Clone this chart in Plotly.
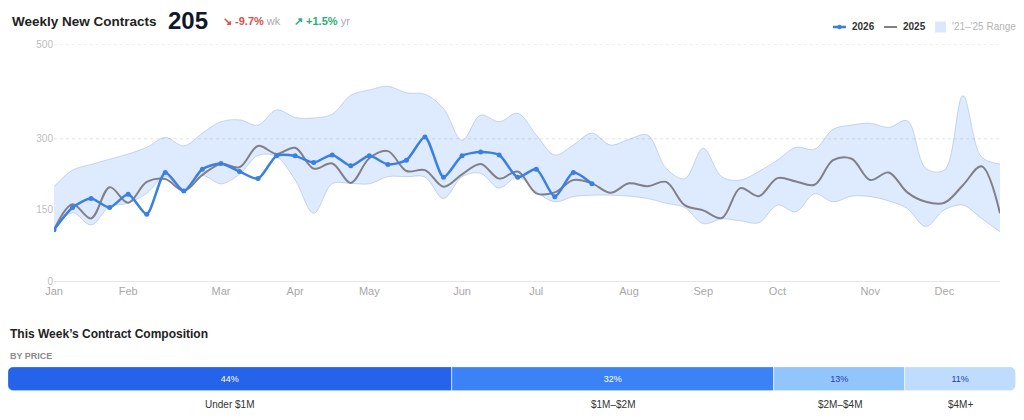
import plotly.graph_objects as go

# ---------------- data ----------------
weeks = list(range(52))
month_labels = ["Jan", "Feb", "Mar", "Apr", "May", "Jun", "Jul", "Aug", "Sep", "Oct", "Nov", "Dec"]
month_weeks = [0, 4, 9, 13, 17, 22, 26, 31, 35, 39, 44, 48]
y_ticks = [0, 150, 300, 500]

y2026 = [108, 155, 174, 155, 183, 141, 229, 190, 236, 248, 231, 216, 264, 264, 250,
         266, 243, 264, 246, 255, 304, 219, 264, 272, 266, 219, 236, 178, 229, 205]

y2025 = [108, 162, 132, 198, 165, 209, 215, 190, 224, 247, 240, 285, 268, 281, 237,
         248, 207, 259, 274, 232, 234, 199, 225, 247, 216, 231, 185, 187, 213, 206,
         186, 206, 200, 209, 160, 149, 133, 196, 179, 217, 210, 203, 255, 258, 213,
         229, 187, 167, 165, 202, 242, 143]

range_upper = [199, 234, 246, 257, 268, 282, 303, 285, 312, 336, 340, 329, 361, 345, 344,
               352, 392, 403, 411, 397, 394, 364, 297, 350, 336, 354, 308, 266, 287, 312,
               287, 299, 308, 238, 216, 280, 220, 213, 231, 255, 282, 278, 320, 329, 333,
               324, 338, 238, 234, 391, 262, 247]

range_lower = [110, 144, 118, 157, 164, 185, 220, 190, 222, 205, 225, 265, 262, 213, 143,
               205, 206, 205, 220, 220, 219, 174, 220, 227, 196, 220, 188, 167, 178, 181,
               181, 179, 174, 164, 155, 121, 131, 127, 123, 160, 146, 184, 167, 179, 178,
               169, 153, 115, 150, 160, 132, 104]

comp_categories = ["Under $1M", "$1M–$2M", "$2M–$4M", "$4M+"]
comp_shares = [44, 32, 13, 11]

headline_value = 205
wk_change = "-9.7%"
yr_change = "+1.5%"

# ---------------- geometry (page body has an 8px margin) ----------------
OFF = 8
W, H = 1024 - OFF, 420 - OFF
def px(x):
    return min(1.0, max(0.0, (x - OFF) / W))
def py(y):
    return min(1.0, max(0.0, 1 - (y - OFF) / H))

FONT = "Liberation Sans, Arial, sans-serif"
BLUE = "#3a7fe4"
GRAY = "#808086"
BAND_FILL = "rgba(59,130,246,0.17)"
BAND_EDGE = "rgba(120,155,210,0.45)"
comp_colors = ["#2563eb", "#3b82f6", "#93c5fd", "#bfdbfe"]
comp_text_colors = ["#ffffff", "#ffffff", "#1e40af", "#1e40af"]

fig = go.Figure()

# band
fig.add_trace(go.Scatter(
    x=weeks, y=range_lower, mode="lines",
    line=dict(color=BAND_EDGE, width=0.8, shape="spline", smoothing=1),
    showlegend=False, hoverinfo="skip"))
fig.add_trace(go.Scatter(
    x=weeks, y=range_upper, mode="lines", fill="tonexty", fillcolor=BAND_FILL,
    line=dict(color=BAND_EDGE, width=0.8, shape="spline", smoothing=1),
    name="'21–'25 Range", showlegend=False))

# 2025
fig.add_trace(go.Scatter(
    x=weeks, y=y2025, mode="lines",
    line=dict(color=GRAY, width=2, shape="spline", smoothing=1),
    name="2025", showlegend=False))

# 2026
fig.add_trace(go.Scatter(
    x=weeks[:len(y2026)], y=y2026, mode="lines+markers",
    line=dict(color=BLUE, width=2.5, shape="spline", smoothing=0.7),
    marker=dict(size=5, color=BLUE),
    name="2026", showlegend=False))

# composition bar: first segment extends left of the axis origin (so both outer ends get rounded)
first = comp_shares[0]
seg_start = -first
for i, (cat, share, col, tcol) in enumerate(zip(comp_categories, comp_shares, comp_colors, comp_text_colors)):
    val = -share if i == 0 else share
    fig.add_trace(go.Bar(
        x=[val], y=["price"], orientation="h", xaxis="x2", yaxis="y2",
        marker=dict(color=col, line=dict(color="#ffffff", width=0.6)),
        text=[f"{share}%"], textposition="inside", insidetextanchor="middle",
        textfont=dict(color=tcol, size=9, family=FONT),
        showlegend=False, hoverinfo="skip", name=cat))

annotations = [
    dict(text="<b>Weekly New Contracts</b>", x=px(10), y=py(22), xanchor="left", yanchor="middle",
         font=dict(size=13.5, color="#222222", family=FONT)),
    dict(text=f"<b>{headline_value}</b>", x=px(166), y=py(21), xanchor="left", yanchor="middle",
         font=dict(size=24, color="#111827", family=FONT)),
    dict(text=f"<span style='color:#e04a4a'><b>↘ {wk_change}</b></span> <span style='color:#aaaaaa'>wk</span>",
         x=px(221), y=py(21), xanchor="left", yanchor="middle", font=dict(size=11, family=FONT)),
    dict(text=f"<span style='color:#1fb07a'><b>↗ {yr_change}</b></span> <span style='color:#aaaaaa'>yr</span>",
         x=px(292), y=py(21), xanchor="left", yanchor="middle", font=dict(size=11, family=FONT)),
    dict(text="<b>This Week’s Contract Composition</b>", x=px(8), y=py(334), xanchor="left", yanchor="middle",
         font=dict(size=12, color="#222222", family=FONT)),
    dict(text="<b>BY PRICE</b>", x=px(8), y=py(356), xanchor="left", yanchor="middle",
         font=dict(size=9, color="#8a8a8a", family=FONT)),
    # legend labels
    dict(text="<b>2026</b>", x=px(850), y=py(27), xanchor="left", yanchor="middle",
         font=dict(size=10, color="#333333", family=FONT)),
    dict(text="<b>2025</b>", x=px(901), y=py(27), xanchor="left", yanchor="middle",
         font=dict(size=10, color="#333333", family=FONT)),
    dict(text="'21–'25 Range", x=px(950), y=py(27), xanchor="left", yanchor="middle",
         font=dict(size=10, color="#b5b5b5", family=FONT)),
]
cum = seg_start
for cat, share in zip(comp_categories, comp_shares):
    annotations.append(dict(text=cat, x=cum + share / 2, xref="x2", y=py(404), yref="paper",
                            xanchor="center", yanchor="middle",
                            font=dict(size=10, color="#333333", family=FONT)))
    cum += share
for a in annotations:
    a.setdefault("xref", "paper")
    a.setdefault("yref", "paper")
    a["showarrow"] = False

shapes = [dict(type="line", xref="x", yref="y", x0=0, x1=51, y0=v, y1=v,
               line=dict(color="#e3e3e3", width=1, dash="dot"), layer="below")
          for v in (300, 500)]
# legend keys
shapes += [
    dict(type="line", xref="paper", yref="paper", x0=px(833), x1=px(846), y0=py(27), y1=py(27),
         line=dict(color=BLUE, width=2.5)),
    dict(type="circle", xref="paper", yref="paper", x0=px(837.3), x1=px(841.7), y0=py(29.2), y1=py(24.8),
         fillcolor=BLUE, line=dict(width=0)),
    dict(type="line", xref="paper", yref="paper", x0=px(884), x1=px(897), y0=py(27), y1=py(27),
         line=dict(color=GRAY, width=2)),
    dict(type="rect", xref="paper", yref="paper", x0=px(935), x1=px(946), y0=py(32.5), y1=py(21.5),
         fillcolor="#dbe7fc", line=dict(width=0)),
]

fig.update_layout(
    width=W, height=H,
    margin=dict(l=0, r=0, t=0, b=0),
    paper_bgcolor="white", plot_bgcolor="white",
    font=dict(family=FONT),
    showlegend=False,
    barmode="relative", bargap=0, barcornerradius=6,
    xaxis=dict(domain=[px(54), px(1000)], range=[0, 51], tickvals=month_weeks, ticktext=month_labels,
               showgrid=False, zeroline=False, showline=True, linecolor="#e6e6e6", linewidth=1,
               ticks="", tickfont=dict(size=11, color="#a8a8a8"), automargin=False, fixedrange=True),
    yaxis=dict(domain=[py(281), py(44)], range=[0, 500], tickvals=y_ticks,
               showgrid=False, zeroline=False, ticks="", tickfont=dict(size=10, color="#bdbdbd"),
               automargin=False, fixedrange=True),
    xaxis2=dict(domain=[px(8), px(1016)], range=[seg_start, seg_start + sum(comp_shares)],
                visible=False, anchor="y2", zeroline=False),
    yaxis2=dict(domain=[py(391), py(367)], range=[-0.5, 0.5], visible=False, anchor="x2"),
    annotations=annotations,
    shapes=shapes,
    uniformtext=dict(mode="show", minsize=8),
)

fig.write_html("out.html")
